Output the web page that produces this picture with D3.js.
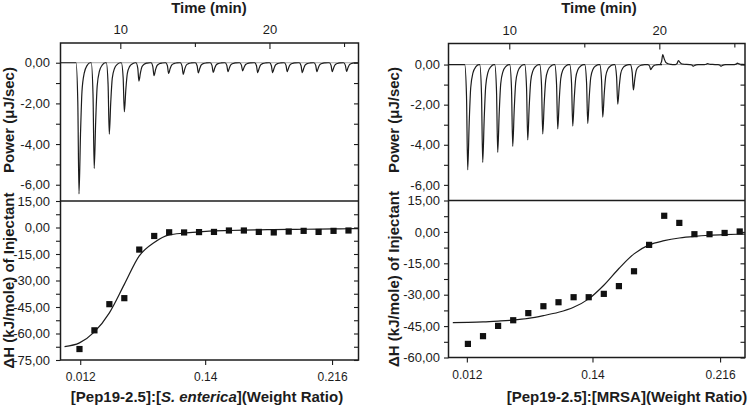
<!DOCTYPE html>
<html>
<head>
<meta charset="utf-8">
<script src="https://cdn.jsdelivr.net/npm/d3@7"></script>
<style>
  html, body { margin: 0; padding: 0; background: #fff; }
  svg { display: block; font-family: "Liberation Sans", Arial, sans-serif; }
</style>
</head>
<body>
<svg id="chart" width="750" height="406"></svg>
<script>
// ---------------- DATA ----------------
// Raw thermogram peaks (time of peak in min, peak power in µJ/sec)
const leftPeakTimes  = [7.23, 8.25, 9.26, 10.27, 11.25, 12.26, 13.24, 14.22, 15.23, 16.23, 17.22, 18.20, 19.21, 20.21, 21.19, 22.20, 23.18, 24.21, 25.17];
const leftPeakPower  = [-6.45, -5.20, -3.51, -2.41, -0.90, -0.64, -0.53, -0.57, -0.50, -0.48, -0.44, -0.40, -0.49, -0.49, -0.44, -0.49, -0.44, -0.44, -0.43];
const rightPeakTimes = [7.23, 8.23, 9.23, 10.23, 11.23, 12.23, 13.23, 14.23, 15.23, 16.23, 17.23, 18.27, 19.43, 20.23, 21.27, 22.25, 23.2, 24.1, 25.2];
const rightPeakPower = [-5.25, -4.88, -4.38, -4.08, -3.76, -3.46, -3.21, -3.07, -2.94, -2.62, -1.98, -1.27, -0.25, 0.50, 0.20, -0.08, 0.05, -0.08, 0.07];
// Shape of one injection peak: [time offset from peak (min), fraction of peak height]
const peakShape = [[-0.2, 0], [-0.08, 0.3], [0, 1], [0.1, 0.55], [0.2, 0.22], [0.35, 0.08], [0.55, 0.02], [0.75, 0]];

// Integrated heats (injection number 1..19, kJ/mole)
const injections = [1, 2, 3, 4, 5, 6, 7, 8, 9, 10, 11, 12, 13, 14, 15, 16, 17, 18, 19];
const leftHeat  = [-68.8, -58.2, -43.4, -40.0, -12.5, -4.8, -2.7, -2.8, -2.6, -2.5, -1.7, -1.7, -2.5, -2.8, -2.3, -1.9, -2.5, -1.9, -1.7];
const rightHeat = [-53.5, -49.8, -44.9, -42.2, -38.8, -35.5, -33.6, -31.2, -31.2, -29.6, -25.9, -18.8, -6.2, 7.7, 4.3, -1.1, -1.1, -0.5, 0.2];

// Fitted curves
const leftFitX  = [0, 1, 2, 3, 4, 5, 6, 7, 8, 9, 10, 11, 12, 13, 14, 15, 16, 17, 18, 19, 19.67];
const leftFitY  = [-67.4, -65.3, -59.1, -48.3, -32.2, -16.1, -8.5, -4.2, -3.2, -2.5, -1.9, -1.7, -1.5, -1.3, -1.2, -1.1, -1.0, -0.9, -0.8, -0.7, -0.6];
const rightFitX = [0, 1, 2, 3, 4, 5, 6, 7, 8, 9, 10, 11, 12, 13, 14, 15, 16, 17, 18, 19, 19.35];
const rightFitY = [-43.3, -43.2, -43.0, -42.6, -42.1, -41.3, -40.0, -38.4, -36.0, -32.0, -25.5, -17.5, -10.5, -6.2, -4.2, -2.9, -2.1, -1.6, -1.3, -1.1, -1.05];

// Axis ticks
const timeMajorTicks = [10, 20];
const timeMinorTicks = [15, 25];
const powerMajorTicks = [0, -2, -4, -6];
const powerMinorTicks = [-1, -3, -5];
const leftHeatMajorTicks  = [15, 0, -15, -30, -45, -60, -75];
const rightHeatMajorTicks = [15, 0, -15, -30, -45, -60];
const ratioTickLabels = ["0.012", "0.14", "0.216"];
const leftRatioTickPos  = [1.05, 9.41, 17.9];
const rightRatioTickPos = [0.93, 9.25, 17.7];

// ---------------- DRAWING ----------------
const svg = d3.select("#chart");
const ink = "#1c1c1c";
const fmt = d3.formatLocale({decimal: ",", thousands: ".", grouping: [3], currency: ["", ""], minus: "-"}).format(".2f");

function minorOf(majors) {
  const out = [];
  for (let i = 0; i < majors.length - 1; i++) out.push((majors[i] + majors[i + 1]) / 2);
  return out;
}

function styleAxis(g, fs) {
  g.select(".domain").remove();
  g.selectAll(".tick line").attr("stroke", ink).attr("stroke-width", 1.1);
  g.selectAll(".tick text").attr("fill", ink).style("font-size", fs + "px");
}

function buildTrace(times, powers, t0, t1) {
  const pts = [[t0, 0]];
  times.forEach((t, i) => {
    peakShape.forEach(([dt, f]) => pts.push([t + dt, powers[i] * f]));
  });
  pts.push([t1, 0]);
  return pts.filter(p => p[0] >= t0 && p[0] <= t1);
}

function panel(cfg) {
  const g = svg.append("g");
  const xT = d3.scaleLinear().domain(cfg.timeDomain).range([cfg.x0, cfg.x1]);
  const yP = d3.scaleLinear().domain(cfg.powerDomain).range([cfg.yMid, cfg.yTop]);
  const xR = d3.scaleLinear().domain(cfg.ratioDomain).range([cfg.x0, cfg.x1]);
  const yH = d3.scaleLinear().domain(cfg.heatDomain).range([cfg.yBot, cfg.yMid]);

  // baseline in the top panel
  g.append("line").attr("x1", cfg.x0).attr("x2", cfg.x1)
    .attr("y1", yP(0)).attr("y2", yP(0)).attr("stroke", "#a8a8a8").attr("stroke-width", 1);

  // thermogram
  const trace = buildTrace(cfg.peakTimes, cfg.peakPower, cfg.timeDomain[0], cfg.timeDomain[1]);
  g.append("path").datum(trace)
    .attr("d", d3.line().x(d => xT(d[0])).y(d => yP(d[1])).curve(d3.curveMonotoneX))
    .attr("fill", "none").attr("stroke", ink).attr("stroke-width", 1.2);

  // fit curve
  const fit = cfg.fitX.map((x, i) => [x, cfg.fitY[i]]);
  g.append("path").datum(fit)
    .attr("d", d3.line().x(d => xR(d[0])).y(d => yH(d[1])).curve(d3.curveMonotoneX))
    .attr("fill", "none").attr("stroke", ink).attr("stroke-width", 1.2);

  // square markers
  const s = 6.2;
  g.selectAll("rect.pt").data(injections.map((n, i) => [n, cfg.heat[i]])).join("rect")
    .attr("class", "pt")
    .attr("x", d => xR(d[0]) - s / 2).attr("y", d => yH(d[1]) - s / 2)
    .attr("width", s).attr("height", s).attr("fill", "#111");

  // ---- axes ----
  const ta = g.append("g").attr("transform", `translate(0,${cfg.yTop})`)
    .call(d3.axisTop(xT).tickValues(timeMajorTicks).tickSize(-6).tickPadding(9).tickFormat(d3.format("d")));
  styleAxis(ta, 13);
  const tam = g.append("g").attr("transform", `translate(0,${cfg.yTop})`)
    .call(d3.axisTop(xT).tickValues(timeMinorTicks).tickSize(-4).tickFormat(""));
  styleAxis(tam, 13);

  const pa = g.append("g").attr("transform", `translate(${cfg.x0},0)`)
    .call(d3.axisLeft(yP).tickValues(powerMajorTicks).tickSize(4.5).tickPadding(cfg.labPad).tickFormat(fmt));
  styleAxis(pa, 13);
  const pam = g.append("g").attr("transform", `translate(${cfg.x0},0)`)
    .call(d3.axisLeft(yP).tickValues(powerMinorTicks).tickSize(4.5).tickFormat(""));
  styleAxis(pam, 13);
  const par = g.append("g").attr("transform", `translate(${cfg.x1},0)`)
    .call(d3.axisRight(yP).tickValues(powerMajorTicks.concat(powerMinorTicks)).tickSize(-4.5).tickFormat(""));
  styleAxis(par, 13);

  const ha = g.append("g").attr("transform", `translate(${cfg.x0},0)`)
    .call(d3.axisLeft(yH).tickValues(cfg.heatTicks).tickSize(4.5).tickPadding(cfg.labPad).tickFormat(fmt));
  styleAxis(ha, 13);
  const heatMinor = minorOf(cfg.heatTicks);
  const ham = g.append("g").attr("transform", `translate(${cfg.x0},0)`)
    .call(d3.axisLeft(yH).tickValues(heatMinor).tickSize(4.5).tickFormat(""));
  styleAxis(ham, 13);
  const har = g.append("g").attr("transform", `translate(${cfg.x1},0)`)
    .call(d3.axisRight(yH).tickValues(cfg.heatTicks.slice(1).concat(heatMinor)).tickSize(-4.5).tickFormat(""));
  styleAxis(har, 13);

  const ra = g.append("g").attr("transform", `translate(0,${cfg.yBot})`)
    .call(d3.axisBottom(xR).tickValues(cfg.ratioTicks).tickSize(5).tickPadding(7.5)
      .tickFormat((d, i) => ratioTickLabels[i]));
  styleAxis(ra, 12);

  // frames
  g.append("rect").attr("x", cfg.x0).attr("y", cfg.yTop)
    .attr("width", cfg.x1 - cfg.x0).attr("height", cfg.yBot - cfg.yTop)
    .attr("fill", "none").attr("stroke", ink).attr("stroke-width", 1.5);
  g.append("line").attr("x1", cfg.x0).attr("x2", cfg.x1).attr("y1", cfg.yMid).attr("y2", cfg.yMid)
    .attr("stroke", ink).attr("stroke-width", 1.3);

  // titles
  g.append("text").attr("x", cfg.timeTitleX).attr("y", 12.5).attr("text-anchor", "middle")
    .attr("fill", ink).style("font-size", "15px").style("font-weight", "bold").text("Time (min)");
  g.append("text").attr("transform", `translate(${cfg.yTitleX},${(cfg.yTop + cfg.yMid) / 2 - 2}) rotate(-90)`)
    .attr("text-anchor", "middle").attr("fill", ink)
    .style("font-size", "15px").style("font-weight", "bold").text("Power (\u03BCJ/sec)");
  g.append("text").attr("transform", `translate(${cfg.yTitleX},${(cfg.yMid + cfg.yBot) / 2}) rotate(-90)`)
    .attr("text-anchor", "middle").attr("fill", ink)
    .style("font-size", "15px").style("font-weight", "bold").text("\u0394H (kJ/mole) of Injectant");
  const xt = g.append("text").attr("x", cfg.xTitleX).attr("y", cfg.xTitleY).attr("text-anchor", "middle")
    .attr("fill", ink).style("font-size", "15px").style("font-weight", "bold");
  cfg.xTitleParts.forEach(p => {
    xt.append("tspan").style("font-style", p.italic ? "italic" : "normal").text(p.t);
  });
}

panel({
  x0: 60.5, x1: 358.5, yTop: 43, yMid: 201, yBot: 360,
  timeDomain: [5.99, 25.97], powerDomain: [-6.8, 0.97],
  ratioDomain: [-0.27, 19.67], heatDomain: [-75, 15],
  peakTimes: leftPeakTimes, peakPower: leftPeakPower,
  heat: leftHeat, fitX: leftFitX, fitY: leftFitY,
  heatTicks: leftHeatMajorTicks, ratioTicks: leftRatioTickPos,
  labPad: 6, timeTitleX: 209, yTitleX: 14, xTitleX: 207, xTitleY: 402,
  xTitleParts: [{t: "[Pep19-2.5]:["}, {t: "S. enterica", italic: true}, {t: "](Weight Ratio)"}]
});

panel({
  x0: 448.5, x1: 745, yTop: 43.5, yMid: 200.5, yBot: 357.5,
  timeDomain: [5.95, 25.71], powerDomain: [-6.78, 1.05],
  ratioDomain: [-0.285, 19.35], heatDomain: [-60, 15],
  peakTimes: rightPeakTimes, peakPower: rightPeakPower,
  heat: rightHeat, fitX: rightFitX, fitY: rightFitY,
  heatTicks: rightHeatMajorTicks, ratioTicks: rightRatioTickPos,
  labPad: 4, timeTitleX: 599, yTitleX: 399, xTitleX: 627, xTitleY: 402,
  xTitleParts: [{t: "[Pep19-2.5]:[MRSA](Weight Ratio)"}]
});
</script>
</body>
</html>
